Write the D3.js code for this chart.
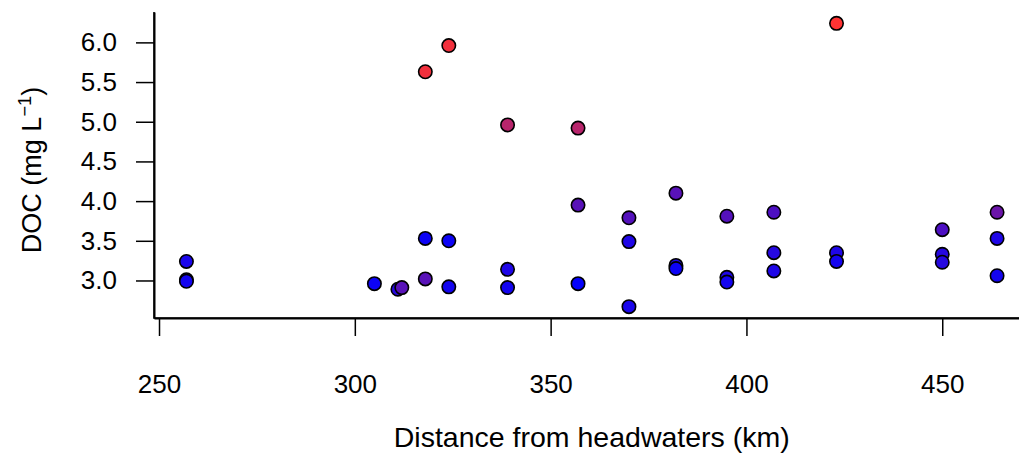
<!DOCTYPE html>
<html>
<head>
<meta charset="utf-8">
<script src="https://cdn.jsdelivr.net/npm/d3@7"></script>
<style>
body{margin:0;background:#fff;}
text{font-family:"Liberation Sans",Arial,Helvetica,sans-serif;}
</style>
</head>
<body>
<div id="chart"></div>
<script>
// distance from headwaters (km), DOC (mg/L), colour shade (0 = blue, 1 = red)
var distKm = [257,257,257,305,311,312,318,318,318,324,324,324,339,339,339,357,357,357,
              370,370,370,382,382,382,395,395,395,407,407,407,423,423,423,450,450,450,464,464,464];
var docVal = [3.24,3.01,2.99,2.96,2.89,2.91,5.63,3.53,3.02,5.96,3.50,2.92,4.96,3.14,2.91,4.92,3.95,2.96,
              3.79,3.49,2.67,4.10,3.19,3.15,3.81,3.04,2.98,3.86,3.35,3.12,6.24,3.35,3.24,3.64,3.33,3.23,3.86,3.53,3.06];
var shade  = [0.10,0.08,0.08,0.05,0.15,0.35,0.95,0.05,0.35,0.95,0.05,0.08,0.72,0.12,0.08,0.72,0.35,0.02,
              0.33,0.12,0.10,0.35,0.12,0.05,0.33,0.12,0.08,0.30,0.15,0.12,1.00,0.12,0.08,0.30,0.15,0.15,0.42,0.12,0.08];
var xTicks = [250,300,350,400,450];
var yTicks = [3.0,3.5,4.0,4.5,5.0,5.5,6.0];

var W = 1019, H = 455, FS = 26;
var pts = distKm.map((d,i)=>({x:d, y:docVal[i], c:shade[i]}));

// R style 4% padding
function pad(ext){var r=ext[1]-ext[0];return [ext[0]-0.04*r, ext[1]+0.04*r];}
var x = d3.scaleLinear().domain(pad(d3.extent(distKm))).range([154,1029.5]);
var y = d3.scaleLinear().domain(pad(d3.extent(docVal))).range([318,12]);
var col = d3.scaleLinear().domain([0,1]).range(['#0000ff','#ff3333']).interpolate(d3.interpolateRgb);

var svg = d3.select('#chart').append('svg').attr('width',W).attr('height',H);

// L shaped box
svg.append('path').attr('d','M'+x.range()[0]+','+y.range()[1]+'V'+y.range()[0]+'H'+W)
    .attr('fill','none').attr('stroke','#000').attr('stroke-width',1.5);

var gx = svg.append('g').attr('transform','translate(0,318)')
    .call(d3.axisBottom(x).tickValues(xTicks).tickFormat(d3.format('d')).tickSize(18).tickSizeOuter(0).tickPadding(39));
var gy = svg.append('g').attr('transform','translate('+x.range()[0]+',0)')
    .call(d3.axisLeft(y).tickValues(yTicks).tickFormat(d3.format('.1f')).tickSize(18).tickSizeOuter(0).tickPadding(19));
[gx,gy].forEach(g=>{
    g.attr('font-size',FS).attr('font-family','"Liberation Sans",Arial,sans-serif');
    g.selectAll('path').attr('stroke-width',2);
    g.selectAll('line').attr('stroke-width',1.5);
    g.selectAll('text').attr('fill','#000');
});

svg.selectAll('circle.pt').data(pts).enter().append('circle').attr('class','pt')
    .attr('cx',d=>x(d.x)).attr('cy',d=>y(d.y)).attr('r',6.7)
    .attr('fill',d=>col(d.c)).attr('stroke','#000').attr('stroke-width',1.6);

// axis titles
svg.append('text').attr('x',(x.range()[0]+x.range()[1])/2).attr('y',447)
    .attr('text-anchor','middle').attr('font-size',28.5).text('Distance from headwaters (km)');
var yt = svg.append('text').attr('transform','translate(41,170) rotate(-90)')
    .attr('text-anchor','middle').attr('font-size',FS+1);
yt.append('tspan').text('DOC (mg L');
yt.append('tspan').attr('dy',-10).attr('font-size',FS*0.7).text('\u22121');
yt.append('tspan').attr('dy',10).text(')');
</script>
</body>
</html>
